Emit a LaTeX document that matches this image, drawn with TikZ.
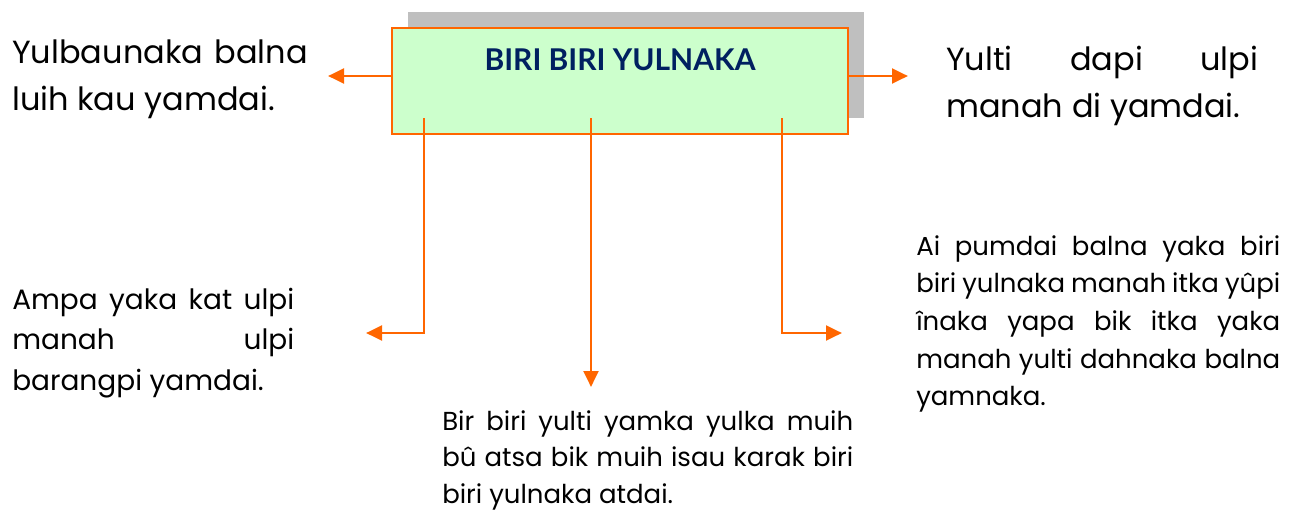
\documentclass[tikz,border=0pt]{standalone}
\usepackage{fontspec}
\setmainfont{Poppins}
\newfontfamily\titlefont{Lato}
\usetikzlibrary{arrows.meta}
\definecolor{orng}{HTML}{FF6600}
\definecolor{lgreen}{HTML}{CCFFCC}
\definecolor{shgray}{HTML}{BFBFBF}
\definecolor{navy}{HTML}{002060}
\newcommand\jl[2]{\hbox to #1{#2}}
\begin{document}
\begin{tikzpicture}[x=0.75pt,y=-0.75pt,
  arr/.style={draw=orng, line width=2.2pt, -{Triangle[length=12pt,width=11pt]}},
  shadowbox/.style={fill=shgray, minimum width=342pt, minimum height=79.5pt, inner sep=0pt},
  mainbox/.style={fill=lgreen, draw=orng, line width=1.8pt, minimum width=342pt, minimum height=79.5pt, inner sep=0pt},
  titlestyle/.style={font=\titlefont\bfseries\fontsize{22.5}{26}\selectfont, text=navy, inner sep=0pt},
  txt/.style={inner sep=0pt, anchor=base west, text=black}]
\useasboundingbox (0,0) rectangle (1296,512);
\node[shadowbox] (shadow) at (636,65) {};
\node[mainbox] (box) at (620,81) {};
\node[titlestyle, anchor=base] (title) at (620,70) {BIRI BIRI YULNAKA};
% connectors
\coordinate (wl) at (328,76);
\coordinate (wr) at (908,76);
\draw[arr] (box.west |- wl) -- (wl);
\draw[arr] (box.east |- wr) -- (wr);
\coordinate (d1) at (424,118);
\coordinate (e1) at (366,333);
\coordinate (d2) at (591,118);
\coordinate (e2) at (591,387);
\coordinate (d3) at (782,118);
\coordinate (e3) at (842,333);
\draw[arr] (d1) |- (e1);
\draw[arr] (d2) -- (e2);
\draw[arr] (d3) |- (e3);
% texts
\node[txt, font=\fontsize{24}{28}\selectfont] (t1) at (12,63) {\vtop{\baselineskip=35.25pt
  \jl{221.25pt}{Yulbaunaka\ \ balna}
  \hbox{luih kau yamdai.}}};
\node[txt, font=\fontsize{24}{28}\selectfont] (t2) at (946,70) {\vtop{\baselineskip=35.25pt
  \jl{234pt}{Yulti dapi ulpi}
  \hbox{manah di yamdai.}}};
\node[txt, font=\fontsize{21}{24}\selectfont] (t3) at (12,309) {\vtop{\baselineskip=30.5pt
  \jl{211.5pt}{Ampa yaka kat ulpi}
  \jl{211.5pt}{manah ulpi}
  \hbox{barangpi yamdai.}}};
\node[txt, font=\fontsize{19.5}{23}\selectfont] (t4) at (442,430) {\vtop{\baselineskip=27.5pt
  \jl{308.25pt}{Bir biri yulti yamka yulka muih}
  \jl{308.25pt}{bû atsa bik muih isau karak biri}
  \hbox{biri yulnaka atdai.}}};
\node[txt, font=\fontsize{19.5}{23}\selectfont] (t5) at (916,255) {\vtop{\baselineskip=28.25pt
  \jl{273pt}{Ai pumdai balna yaka biri}
  \jl{273pt}{biri yulnaka manah itka yûpi}
  \jl{273pt}{înaka yapa bik itka yaka}
  \jl{273pt}{manah yulti dahnaka balna}
  \hbox{yamnaka.}}};
\end{tikzpicture}
\end{document}
